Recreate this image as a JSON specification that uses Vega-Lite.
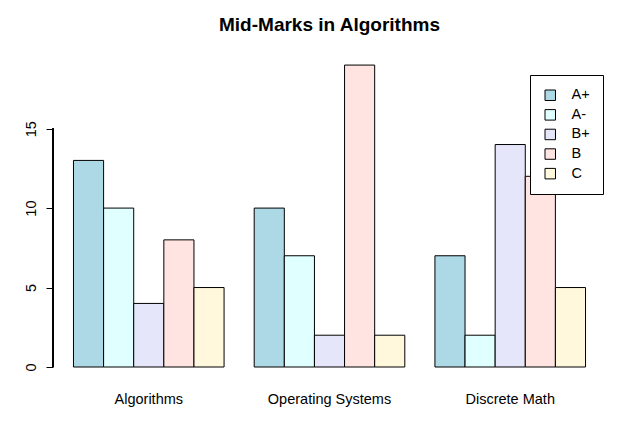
{
  "$schema": "https://vega.github.io/schema/vega-lite/v6.json",
  "autosize": {"type": "none"},
  "padding": {"left": 53, "top": 53, "right": 29, "bottom": 57},
  "width": 553,
  "height": 314,
  "background": "white",
  "config": {
    "font": "Liberation Sans",
    "view": {"stroke": null}
  },
  "title": {
    "text": "Mid-Marks in Algorithms",
    "fontSize": 19,
    "fontWeight": "bold",
    "font": "Liberation Sans",
    "color": "black",
    "offset": 18,
    "anchor": "middle"
  },
  "data": {
    "values": [
      {"course": "Algorithms", "grade": "A+", "count": 13},
      {"course": "Algorithms", "grade": "A-", "count": 10},
      {"course": "Algorithms", "grade": "B+", "count": 4},
      {"course": "Algorithms", "grade": "B", "count": 8},
      {"course": "Algorithms", "grade": "C", "count": 5},
      {"course": "Operating Systems", "grade": "A+", "count": 10},
      {"course": "Operating Systems", "grade": "A-", "count": 7},
      {"course": "Operating Systems", "grade": "B+", "count": 2},
      {"course": "Operating Systems", "grade": "B", "count": 19},
      {"course": "Operating Systems", "grade": "C", "count": 2},
      {"course": "Discrete Math", "grade": "A+", "count": 7},
      {"course": "Discrete Math", "grade": "A-", "count": 2},
      {"course": "Discrete Math", "grade": "B+", "count": 14},
      {"course": "Discrete Math", "grade": "B", "count": 12},
      {"course": "Discrete Math", "grade": "C", "count": 5}
    ]
  },
  "layer": [
    {
      "mark": {"type": "bar", "stroke": "black", "strokeWidth": 1},
      "encoding": {
        "x": {
          "field": "course",
          "type": "nominal",
          "sort": ["Algorithms", "Operating Systems", "Discrete Math"],
          "scale": {"paddingInner": 0.16667, "paddingOuter": 0.1133},
          "axis": {
            "title": null,
            "domain": false,
            "ticks": false,
            "labelAngle": 0,
            "labelFontSize": 14.5,
            "labelColor": "black",
            "labelPadding": 25,
            "labelFont": "Liberation Sans"
          }
        },
        "xOffset": {
          "field": "grade",
          "type": "nominal",
          "sort": ["A+", "A-", "B+", "B", "C"],
          "scale": {"paddingInner": 0, "paddingOuter": 0}
        },
        "y": {
          "field": "count",
          "type": "quantitative",
          "scale": {"domain": [0, 19.76], "nice": false, "zero": false},
          "axis": {
            "title": null,
            "values": [0, 5, 10, 15],
            "domain": false,
            "grid": false,
            "tickColor": "black",
            "tickSize": 7,
            "labelAngle": 270,
            "labelFontSize": 14.5,
            "labelColor": "black",
            "labelPadding": 8,
            "labelFont": "Liberation Sans"
          }
        },
        "fill": {
          "field": "grade",
          "type": "nominal",
          "sort": ["A+", "A-", "B+", "B", "C"],
          "scale": {
            "domain": ["A+", "A-", "B+", "B", "C"],
            "range": ["#ADD8E6", "#E0FFFF", "#E6E6FA", "#FFE4E1", "#FFF8DC"]
          },
          "legend": {
            "title": null,
            "orient": "none",
            "legendX": 477,
            "legendY": 22,
            "padding": 13,
            "strokeColor": "black",
            "fillColor": "white",
            "symbolType": "square",
            "symbolSize": 110,
            "symbolStrokeColor": "black",
            "symbolStrokeWidth": 1,
            "labelFontSize": 14.5,
            "labelColor": "black",
            "labelFont": "Liberation Sans",
            "rowPadding": 3.6,
            "labelOffset": 14
          }
        }
      }
    },
    {
      "mark": {"type": "rule", "color": "black", "strokeWidth": 1},
      "encoding": {
        "y": {"datum": 0},
        "y2": {"datum": 15},
        "x": {"value": 0}
      }
    }
  ]
}
